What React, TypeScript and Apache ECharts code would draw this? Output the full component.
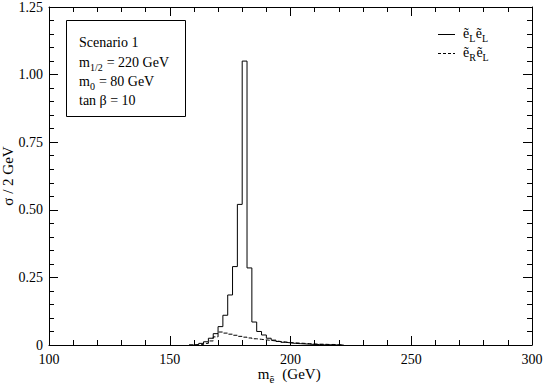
import React, { useEffect, useRef } from "react";
import * as echarts from "echarts";

// Histogram: 2 GeV bins, left edges
const binWidth = 2;
const binEdges = [
  158, 160, 162, 164, 166, 168, 170, 172, 174, 176, 178, 180, 182, 184, 186, 188,
  190, 192, 194, 196, 198, 200, 202, 204, 206, 208, 210, 212, 214, 216, 218, 220,
];
// ẽL ẽL (solid)
const sigmaLL = [
  0, 0.002, 0.006, 0.012, 0.025, 0.042, 0.068, 0.11, 0.185, 0.29, 0.52, 1.05, 0.285, 0.085, 0.05, 0.037,
  0.025, 0.018, 0.013, 0.01, 0.008, 0.006, 0.005, 0.004, 0.003, 0.002, 0.002, 0.001, 0.001, 0.0005, 0, 0,
];
// ẽR ẽL (dashed)
const sigmaRL = [
  0, 0, 0.002, 0.006, 0.015, 0.03, 0.048, 0.044, 0.04, 0.036, 0.032, 0.029, 0.026, 0.023, 0.021, 0.019,
  0.017, 0.015, 0.013, 0.011, 0.009, 0.008, 0.007, 0.006, 0.005, 0.004, 0.003, 0.003, 0.002, 0.002, 0.001, 0,
];

const xMin = 100, xMax = 300, xStep = 50;
const yMin = 0, yMax = 1.25, yStep = 0.25;

const infoLines: Array<Array<[string, boolean]>> = [
  [["Scenario 1", false]],
  [["m", false], ["1/2", true], [" = 220 GeV", false]],
  [["m", false], ["0", true], [" = 80 GeV", false]],
  [["tan β = 10", false]],
];
const legendLL: Array<[string, boolean]> = [["ẽ", false], ["L", true], ["ẽ", false], ["L", true]];
const legendRL: Array<[string, boolean]> = [["ẽ", false], ["R", true], ["ẽ", false], ["L", true]];
const xName: Array<[string, boolean]> = [["m", false], ["ẽ", true], ["  (GeV)", false]];

const FONT = '"Liberation Serif", "DejaVu Serif", serif';

function stepPoints(edges: number[], vals: number[]) {
  const pts: number[][] = edges.map((e, i) => [e, vals[i]]);
  pts.push([edges[edges.length - 1] + binWidth, 0]);
  return pts;
}

let ctx: CanvasRenderingContext2D | null = null;
function measure(text: string, size: number) {
  if (!ctx) ctx = document.createElement("canvas").getContext("2d");
  if (!ctx) return text.length * size * 0.5;
  ctx.font = `${size}px ${FONT}`;
  return ctx.measureText(text).width;
}

function mathText(x: number, baseline: number, parts: Array<[string, boolean]>, size: number) {
  const out: any[] = [];
  let cx = x;
  for (const [t, sub] of parts) {
    const fs = sub ? Math.round(size * 0.7) : size;
    const base = sub ? baseline + size * 0.28 : baseline;
    out.push({
      type: "text",
      x: cx,
      y: base - fs * 0.34,
      z: 10,
      style: { text: t, font: `${fs}px ${FONT}`, fill: "#000", align: "left", verticalAlign: "middle" },
    });
    cx += measure(t, fs) + (sub ? 0.5 : 0);
  }
  return out;
}

function widthOf(parts: Array<[string, boolean]>, size: number) {
  return parts.reduce((s, [t, sub]) => s + measure(t, sub ? Math.round(size * 0.7) : size), 0);
}

export default function App() {
  const ref = useRef<HTMLDivElement>(null);
  useEffect(() => {
    if (!ref.current) return;
    const chart = echarts.init(ref.current, null, { renderer: "svg" });
    const axisCommon = {
      axisLine: { show: true, onZero: false, lineStyle: { color: "#000", width: 1 } },
      axisTick: { show: true, inside: true, length: 9, lineStyle: { color: "#000", width: 1 } },
      splitLine: { show: false },
    };
    const xAxisBase = {
      type: "value",
      min: xMin,
      max: xMax,
      interval: xStep,
      minorTick: { show: true, splitNumber: 5, length: 5, lineStyle: { color: "#000", width: 1 } },
      ...axisCommon,
    };
    const yAxisBase = {
      type: "value",
      min: yMin,
      max: yMax,
      interval: yStep,
      minorTick: { show: true, splitNumber: 5, length: 5, lineStyle: { color: "#000", width: 1 } },
      ...axisCommon,
    };
    const xNameW = widthOf(xName, 15);
    const graphic: any[] = [
      {
        type: "rect",
        z: 9,
        shape: { x: 66.5, y: 20.5, width: 119, height: 96 },
        style: { fill: "#fff", stroke: "#000", lineWidth: 1 },
      },
      ...mathText(79, 47, infoLines[0], 14),
      ...mathText(79, 67, infoLines[1], 14),
      ...mathText(79, 86, infoLines[2], 14),
      ...mathText(79, 105, infoLines[3], 14),
      {
        type: "line",
        z: 10,
        shape: { x1: 438, y1: 34.5, x2: 455, y2: 34.5 },
        style: { stroke: "#000", lineWidth: 1 },
      },
      {
        type: "line",
        z: 10,
        shape: { x1: 438, y1: 53.5, x2: 455, y2: 53.5 },
        style: { stroke: "#000", lineWidth: 1, lineDash: [3, 2] },
      },
      ...mathText(463, 38, legendLL, 14),
      ...mathText(463, 57, legendRL, 14),
      ...mathText(289 - xNameW / 2, 379, xName, 15),
    ];
    chart.setOption({
      animation: false,
      backgroundColor: "#fff",
      grid: {
        left: 49,
        right: 13,
        top: 7,
        bottom: 40,
        containLabel: false,
        outerBoundsMode: "none",
      },
      xAxis: [
        {
          ...xAxisBase,
          position: "bottom",
          axisLabel: { color: "#000", fontFamily: FONT, fontSize: 14, margin: 7 },
        },
        { ...xAxisBase, position: "top", axisLabel: { show: false } },
      ],
      yAxis: [
        {
          ...yAxisBase,
          position: "left",
          name: "σ / 2 GeV",
          nameLocation: "middle",
          nameGap: 34,
          nameMoveOverlap: false,
          nameTextStyle: { color: "#000", fontFamily: FONT, fontSize: 15 },
          axisLabel: {
            color: "#000",
            fontFamily: FONT,
            fontSize: 14,
            margin: 6,
            formatter: (v: number) => (v === 0 ? "0" : v.toFixed(2)),
          },
        },
        { ...yAxisBase, position: "right", axisLabel: { show: false } },
      ],
      series: [
        {
          type: "line",
          step: "end",
          data: stepPoints(binEdges, sigmaLL),
          showSymbol: false,
          symbol: "none",
          lineStyle: { color: "#000", width: 1 },
          z: 3,
        },
        {
          type: "line",
          step: "end",
          data: stepPoints(binEdges, sigmaRL),
          showSymbol: false,
          symbol: "none",
          lineStyle: { color: "#000", width: 1, type: [4, 2] },
          z: 4,
        },
      ],
      graphic,
    });
    return () => chart.dispose();
  }, []);
  return (
    <div
      ref={ref}
      style={{ position: "fixed", left: 0, top: 0, width: 545, height: 385, background: "#fff" }}
    />
  );
}
